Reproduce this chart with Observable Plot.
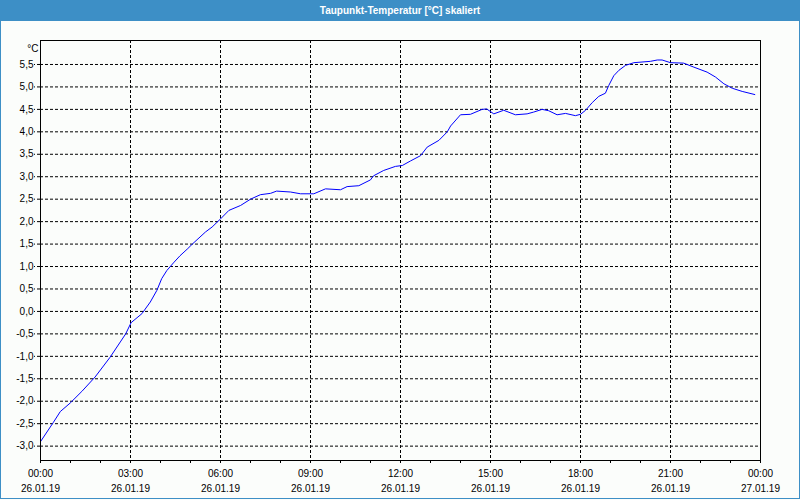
<!DOCTYPE html>
<html><head><meta charset="utf-8">
<script src="https://cdn.jsdelivr.net/npm/d3@7"></script>
<script src="https://cdn.jsdelivr.net/npm/@observablehq/plot@0.6"></script>
<style>
html,body{margin:0;padding:0;background:#fbfdfb;}
#wrap{position:relative;width:800px;height:500px;overflow:hidden;background:#fbfdfb;}
#title{height:21px;background:#3d8fc6;color:#fff;font:bold 10px "Liberation Sans",Arial,sans-serif;text-align:center;line-height:21px;}
#box{width:798px;height:477px;border:1px solid #3d8fc6;border-top:none;}
#box svg{display:block;}
</style>
</head><body>
<div id="wrap"><div id="title">Taupunkt-Temperatur [°C] skaliert</div><div id="box"></div></div>
<script>
const hours = [0.0,0.43,0.66,0.99,1.38,1.82,2.32,2.66,2.84,3.02,3.38,3.66,3.88,4.04,4.21,4.43,4.65,4.91,5.06,5.5,5.72,6.0,6.28,6.67,7.0,7.33,7.67,7.87,8.33,8.67,9.11,9.5,10.0,10.22,10.61,11.0,11.1,11.44,11.83,12.06,12.33,12.67,12.89,13.28,13.56,13.67,14.0,14.33,14.72,14.87,15.11,15.44,15.83,16.22,16.44,16.72,16.94,17.22,17.5,17.83,18.0,18.17,18.39,18.61,18.83,18.94,19.11,19.28,19.5,19.78,20.33,20.56,20.72,21.0,21.44,21.78,22.22,22.5,22.78,23.06,23.39,23.81];
const dewpoint = [-2.9,-2.47,-2.23,-2.04,-1.78,-1.46,-1.02,-0.68,-0.5,-0.25,-0.05,0.21,0.47,0.73,0.91,1.08,1.24,1.4,1.5,1.77,1.88,2.06,2.25,2.36,2.5,2.6,2.63,2.68,2.66,2.62,2.62,2.73,2.71,2.78,2.8,2.93,3.02,3.14,3.23,3.25,3.35,3.47,3.66,3.81,4.0,4.13,4.38,4.39,4.5,4.51,4.4,4.48,4.38,4.4,4.44,4.5,4.47,4.38,4.41,4.36,4.39,4.48,4.65,4.79,4.86,5.03,5.25,5.37,5.48,5.54,5.57,5.6,5.6,5.54,5.53,5.44,5.33,5.22,5.07,4.97,4.9,4.83];
const yTicks = [-3,-2.5,-2,-1.5,-1,-0.5,0,0.5,1,1.5,2,2.5,3,3.5,4,4.5,5,5.5];
const yTickLabels = ["-3,0","-2,5","-2,0","-1,5","-1,0","-0,5","0,0","0,5","1,0","1,5","2,0","2,5","3,0","3,5","4,0","4,5","5,0","5,5"];
const xMajor = [0,3,6,9,12,15,18,21,24];
const xTimeLabels = ["00:00","03:00","06:00","09:00","12:00","15:00","18:00","21:00","00:00"];
const xDateLabels = ["26.01.19","26.01.19","26.01.19","26.01.19","26.01.19","26.01.19","26.01.19","26.01.19","27.01.19"];
const xMinor = d3.range(0,25);
const unitLabel = ["°C"];

const data = hours.map((h,i)=>({h, v: dewpoint[i]}));

const chart = Plot.plot({
  width: 798, height: 477,
  marginTop: 19, marginBottom: 38, marginLeft: 39, marginRight: 39,
  style: {background: "transparent", fontFamily: "'Liberation Sans', Arial, sans-serif", fontSize: "10px", color: "#000"},
  x: {domain: [0, 24]},
  y: {domain: [-3.32, 6.034]},
  marks: [
    Plot.ruleY(yTicks, {stroke: "#000", strokeDasharray: "3,2", strokeOpacity: 1}),
    Plot.ruleX(xMajor.slice(1, -1), {stroke: "#000", strokeDasharray: "3,2", strokeOpacity: 1}),
    Plot.line(data, {x: "h", y: "v", stroke: "#0000ff", strokeWidth: 1}),
    Plot.frame({stroke: "#000"}),
    Plot.axisY({ticks: yTicks, tickSize: 6, tickPadding: 1, strokeDasharray: "3,2", strokeOpacity: 1,
      tickFormat: d => yTickLabels[yTicks.indexOf(d)], label: null}),
    Plot.axisX({ticks: xMinor, tickSize: 3, strokeOpacity: 1, tickFormat: () => "", label: null}),
    Plot.axisX({ticks: xMajor, tickSize: 0, tickPadding: 6, lineHeight: 1.5,
      tickFormat: d => xTimeLabels[xMajor.indexOf(d)] + "\n" + xDateLabels[xMajor.indexOf(d)], label: null}),
    Plot.text(unitLabel, {text: d => d, frameAnchor: "top-left", dx: -2, dy: 4, textAnchor: "end"})
  ]
});
document.getElementById("box").appendChild(chart);
</script>
</body></html>
